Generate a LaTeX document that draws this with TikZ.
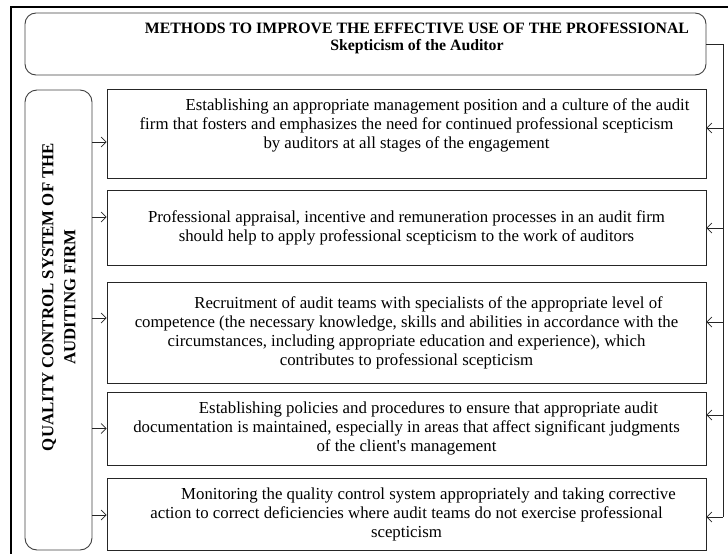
\documentclass[tikz,border=0pt]{standalone}
\usepackage{fontspec}
\setmainfont{Liberation Serif}[Ligatures=TeXOff, WordSpace=1.4]
\newfontfamily\headfont{Liberation Serif}[Ligatures=TeXOff]
\usetikzlibrary{arrows.meta,positioning}

\begin{document}
\begin{tikzpicture}[x=1pt, y=-1pt, >={Straight Barb[length=5pt,width=10pt]},
    headbox/.style={draw=black!75, line width=0.9pt, rounded corners=11pt,
        minimum width=681pt, minimum height=62pt},
    sidebox/.style={draw=black!75, line width=0.9pt, rounded corners=12pt,
        minimum width=67pt, minimum height=460pt},
    itembox/.style={draw=black!85, line width=0.9pt, minimum width=599pt,
        align=center, inner sep=0pt, font=\fontsize{16.8}{19}\selectfont},
    boldtxt/.style={align=center, font=\headfont\bfseries\fontsize{15.8}{17}\selectfont},
    link/.style={->, line width=0.7pt, black!85}]
    % --- Definitions ---
    \def\itemX{406.5}
    \def\ind{44pt}   % first line indent
    \useasboundingbox (0,0) rectangle (728,554);

    % --- Frame ---
    \draw[line width=1.5pt] (728,7) -- (11,7) -- (11,554);

    % --- Heading ---
    \node[headbox] (head) at (365.5,44) {};
    \node[boldtxt] (headtxt) at (417,38)
        {METHODS TO IMPROVE THE EFFECTIVE USE OF THE PROFESSIONAL\\Skepticism of the Auditor};

    % --- Quality control system ---
    \node[boldtxt, rotate=90, font=\headfont\bfseries\fontsize{16.8}{22}\selectfont] (qctxt) at (59,297)
        {QUALITY CONTROL SYSTEM OF THE\\AUDITING FIRM};
    \node[sidebox] (qc) at (58.5,320) {};

    % --- Methods ---
    \node[itembox, minimum height=89pt] (b1) at (\itemX,133.5)
        {\hspace*{62pt}Establishing an appropriate management position and a culture of the audit\\
         firm that fosters and emphasizes the need for continued professional scepticism\\
         by auditors at all stages of the engagement\\ \mbox{}};
    \node[itembox, minimum height=75pt] (b2) at (\itemX,227.5)
        {Professional appraisal, incentive and remuneration processes in an audit firm\\
         should help to apply professional scepticism to the work of auditors};
    \node[itembox, minimum height=101pt] (b3) at (\itemX,332.5)
        {\hspace*{\ind}Recruitment of audit teams with specialists of the appropriate level of\\
         competence (the necessary knowledge, skills and abilities in accordance with the\\
         circumstances, including appropriate education and experience), which\\
         contributes to professional scepticism};
    \node[itembox, minimum height=73pt] (b4) at (\itemX,428.5)
        {\hspace*{\ind}Establishing policies and procedures to ensure that appropriate audit\\
         documentation is maintained, especially in areas that affect significant judgments\\
         of the client's management};
    \node[itembox, minimum height=72pt] (b5) at (\itemX,514)
        {\hspace*{\ind}Monitoring the quality control system appropriately and taking corrective\\
         action to correct deficiencies where audit teams do not exercise professional\\
         scepticism};

    % --- Connectors ---
    \coordinate (rail) at (723,0);
    \foreach \b/\l/\r in {b1/8.5/-5.5, b2/-10.5/0.5, b3/-14.5/-10.5, b4/0/-13.5, b5/1/3} {
        \path ([yshift=-\l pt]\b.west) coordinate (\b-l);
        \path ([yshift=-\r pt]\b.east) coordinate (\b-r);
        \draw[link] (qc.east |- \b-l) -- (\b-l);
        \draw[link] (rail |- \b-r) -- (\b-r);
    }
    \draw[line width=0.7pt, black!85] (head.east) -| (rail |- b5-r);

\end{tikzpicture}
\end{document}
